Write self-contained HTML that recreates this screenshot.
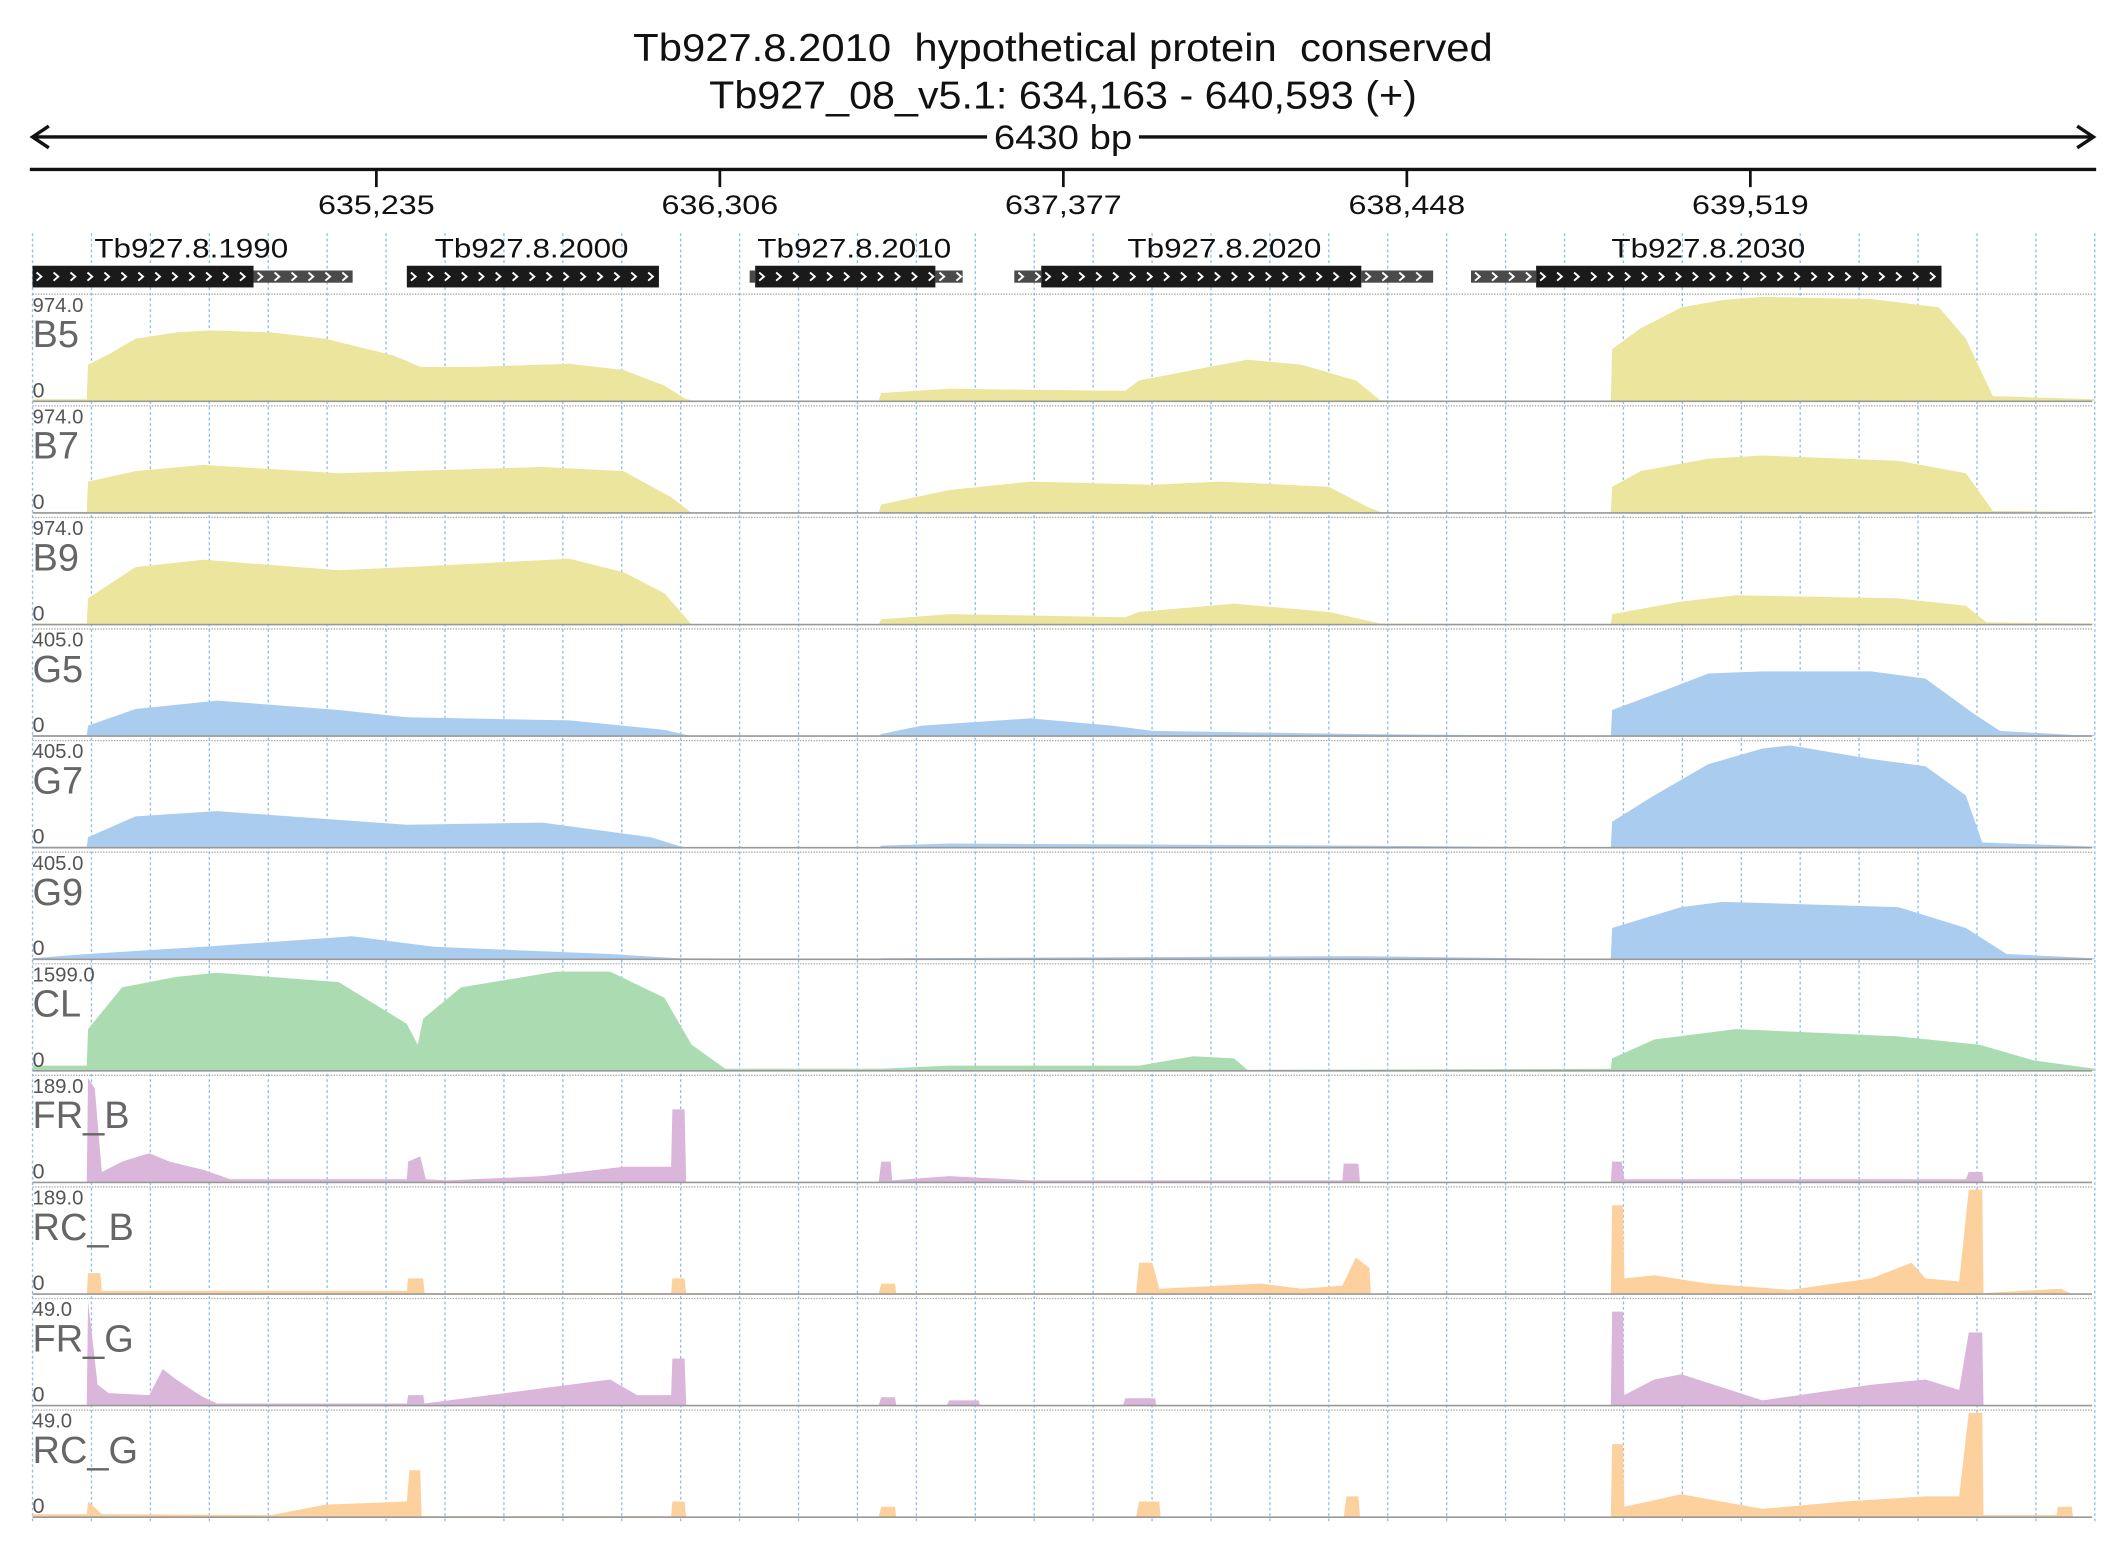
<!DOCTYPE html>
<html><head><meta charset="utf-8"><style>
html,body{margin:0;padding:0;background:#fff;}
svg{display:block;font-family:"Liberation Sans",sans-serif;}
</style></head><body>
<svg id="chart" width="2126" height="1561" viewBox="0 0 1568 1151.3" xmlns="http://www.w3.org/2000/svg">
<g id="grid"></g>
<g id="header">
<text x="784" y="45" font-size="29" text-anchor="middle" fill="#111" xml:space="preserve" textLength="634" lengthAdjust="spacingAndGlyphs">Tb927.8.2010  hypothetical protein  conserved</text>
<text x="784" y="80" font-size="29" text-anchor="middle" fill="#111" textLength="522" lengthAdjust="spacingAndGlyphs">Tb927_08_v5.1: 634,163 - 640,593 (+)</text>
<line x1="24" y1="101" x2="1544" y2="101" stroke="#111" stroke-width="2.5"/>
<polyline points="36,93 24,101 36,109" fill="none" stroke="#111" stroke-width="2.5"/>
<polyline points="1532,93 1544,101 1532,109" fill="none" stroke="#111" stroke-width="2.5"/>
<rect x="728" y="88" width="112" height="26" fill="#fff"/>
<text x="784" y="110" font-size="25" text-anchor="middle" fill="#111" textLength="102" lengthAdjust="spacingAndGlyphs">6430 bp</text>
<line x1="22" y1="125" x2="1546" y2="125" stroke="#111" stroke-width="2.5"/>
</g>
<g id="xticks"></g>
<g id="genes"></g>
<g id="tracks"></g>
</svg>
<script>
const startBp = 634163;
const spanBp = 6430;
const tickLabels = [635235, 636306, 637377, 638448, 639519];
const geneNames = ["Tb927.8.1990","Tb927.8.2000","Tb927.8.2010","Tb927.8.2020","Tb927.8.2030"];
const geneLabelAt = [495, 1556, 2562, 3716, 5225];
const geneCds = [[0,689],[1167,1953],[2253,2815],[3145,4143],[4688,5952]];
const geneUtrs = [[[689,998]],[],[[2236,2253],[2815,2900]],[[3061,3145],[4143,4367]],[[4485,4688]]];
const trackNames = ["B5","B7","B9","G5","G7","G9","CL","FR_B","RC_B","FR_G","RC_G"];
const trackMax = ["974.0","974.0","974.0","405.0","405.0","405.0","1599.0","189.0","189.0","49.0","49.0"];
const trackColors = ["#ece59d","#ece59d","#ece59d","#aacdef","#aacdef","#aacdef","#abdcb1","#d9b6da","#fdd19d","#d9b6da","#fdd19d"];
const posB5=[0,169,173,237,321,448,554,744,913,1125,1209,1378,1674,1843,1970,2033,2063,2638,2646,2858,3407,3450,3619,3788,3957,4126,4202,4921,4925,5014,5141,5268,5394,5733,5944,6028,6112,6430];
const valB5=[0.02,0.02,0.35,0.45,0.6,0.66,0.68,0.66,0.6,0.44,0.33,0.33,0.36,0.3,0.15,0.03,0,0,0.08,0.12,0.1,0.2,0.3,0.4,0.35,0.2,0.01,0,0.5,0.7,0.9,0.97,1.0,0.98,0.9,0.6,0.05,0.02];
const posB7=[0,169,173,321,533,955,1167,1590,1843,1991,2055,2638,2646,2858,3111,3492,3703,4042,4168,4211,4921,4925,5014,5225,5394,5817,6028,6112,6430];
const valB7=[0.01,0.01,0.3,0.4,0.46,0.38,0.4,0.44,0.4,0.15,0,0,0.08,0.22,0.3,0.27,0.3,0.25,0.05,0,0,0.25,0.4,0.52,0.55,0.5,0.38,0.02,0.01];
const posB9=[0,169,173,321,533,955,1167,1674,1843,1970,2055,2638,2646,2858,3407,3450,3746,4042,4202,4921,4925,5141,5310,5817,6028,6092,6430];
const valB9=[0.01,0.01,0.25,0.55,0.62,0.52,0.55,0.63,0.5,0.3,0,0,0.05,0.1,0.07,0.12,0.2,0.12,0.01,0,0.1,0.22,0.28,0.25,0.18,0.02,0.01];
const posG5=[0,169,173,321,575,955,1167,1674,1970,2055,2638,2646,2773,3111,3365,3492,4126,4921,4925,5099,5225,5394,5733,5902,6050,6134,6366,6430];
const valG5=[0.01,0.01,0.1,0.26,0.34,0.25,0.18,0.15,0.06,0,0,0.02,0.1,0.17,0.1,0.05,0.02,0,0.25,0.45,0.6,0.62,0.62,0.55,0.22,0.05,0.01,0.01];
const posG7=[0,169,173,321,575,1167,1590,1928,2033,2638,2646,2858,4126,4921,4925,5056,5225,5394,5479,5733,5902,6028,6079,6430];
const valG7=[0.01,0.01,0.1,0.3,0.35,0.22,0.24,0.1,0,0,0.02,0.04,0.02,0,0.25,0.5,0.8,0.95,0.98,0.85,0.78,0.5,0.05,0.01];
const posG9=[0,169,533,998,1251,1801,2012,2638,2646,4126,4921,4925,5141,5268,5817,6028,6155,6430];
const valG9=[0.01,0.05,0.12,0.22,0.12,0.05,0.01,0,0.01,0.03,0,0.3,0.5,0.55,0.5,0.3,0.05,0.01];
const posCL=[0,169,173,279,448,575,955,1167,1201,1218,1336,1632,1801,1970,2055,2160,2638,2646,2858,3450,3619,3746,3788,4921,4925,5056,5310,5817,6071,6239,6430];
const valCL=[0.05,0.05,0.4,0.8,0.9,0.94,0.85,0.45,0.25,0.5,0.8,0.95,0.95,0.7,0.25,0.02,0.02,0.02,0.05,0.05,0.14,0.12,0.01,0.02,0.12,0.3,0.4,0.33,0.25,0.1,0.02];
const posFRB=[0,169,173,194,216,279,364,427,533,617,1167,1171,1209,1226,1294,1590,1843,1970,1991,1995,2033,2038,2638,2646,2676,2680,2858,3111,4084,4088,4134,4139,4921,4925,4955,4963,5394,6028,6037,6079,6083,6430];
const valFRB=[0,0,1.0,0.9,0.1,0.2,0.28,0.2,0.12,0.03,0.03,0.2,0.25,0.03,0.02,0.06,0.15,0.15,0.15,0.7,0.7,0,0,0.2,0.2,0.02,0.06,0.02,0.02,0.18,0.18,0,0,0.2,0.2,0.03,0.03,0.03,0.1,0.1,0,0];
const posRCB=[0,169,173,211,216,1167,1171,1218,1222,1991,1995,2033,2038,2638,2646,2689,2693,3441,3450,3492,3513,3830,3957,4084,4126,4168,4173,4921,4925,4959,4963,5056,5225,5479,5733,5859,5902,6007,6037,6079,6083,6324,6358,6430];
const valRCB=[0,0,0.2,0.2,0.03,0.03,0.15,0.15,0.01,0.01,0.15,0.15,0.01,0,0.1,0.1,0.01,0.01,0.3,0.3,0.05,0.1,0.05,0.08,0.35,0.25,0,0,0.85,0.85,0.15,0.18,0.1,0.04,0.15,0.3,0.15,0.12,1.0,1.0,0.01,0.05,0,0];
const posFRG=[0,169,173,203,237,364,406,448,512,533,575,1167,1171,1218,1222,1801,1885,1991,1995,2033,2038,2638,2646,2689,2693,2850,2858,2950,2954,3400,3407,3500,3504,4921,4925,4959,4963,5056,5141,5394,5733,5902,6007,6037,6079,6083,6430];
const valFRG=[0,0,1.0,0.2,0.12,0.1,0.35,0.25,0.12,0.08,0.02,0.02,0.1,0.1,0.02,0.25,0.1,0.1,0.45,0.45,0,0,0.08,0.08,0,0,0.05,0.05,0,0,0.07,0.07,0,0,0.9,0.9,0.1,0.25,0.3,0.05,0.2,0.25,0.15,0.7,0.7,0,0];
const posRCG=[0,169,173,216,744,913,1167,1175,1209,1213,1991,1995,2033,2038,2638,2646,2689,2693,3441,3450,3513,3517,4088,4097,4134,4139,4921,4925,4959,4963,5141,5394,5648,5902,6007,6037,6079,6083,6311,6315,6358,6362];
const valRCG=[0.03,0.03,0.15,0.03,0.02,0.12,0.15,0.45,0.45,0.01,0.01,0.15,0.15,0,0,0.1,0.1,0,0,0.15,0.15,0,0,0.2,0.2,0,0,0.7,0.7,0.1,0.22,0.08,0.15,0.2,0.2,1.0,1.0,0.02,0.02,0.1,0.1,0];
const trackPos=[posB5,posB7,posB9,posG5,posG7,posG9,posCL,posFRB,posRCB,posFRG,posRCG];
const trackVal=[valB5,valB7,valB9,valG5,valG7,valG9,valCL,valFRB,valRCB,valFRG,valRCG];

const NS="http://www.w3.org/2000/svg";
const X0=24, X1=1545;
function xScale(off){return X0+off/spanBp*(X1-X0);}
function mk(tag,attrs,parent){const e=document.createElementNS(NS,tag);for(const k in attrs)e.setAttribute(k,attrs[k]);parent.appendChild(e);return e;}

const grid=document.getElementById('grid');
for(let k=0;k<=35;k++){
  const x=X0+k*(X1-X0)/35;
  const l=mk('line',{x1:x,y1:172,x2:x,y2:1122,stroke:'#8ec0ea','stroke-width':1,'stroke-dasharray':'2,2'},grid);
  
  
}
const xt=document.getElementById('xticks');
tickLabels.forEach(v=>{
  const x=xScale(v-startBp);
  const t=mk('line',{x1:x,y1:125,x2:x,y2:138,stroke:'#111','stroke-width':2},xt);
  
  
  const tx=mk('text',{x:x,y:158,'font-size':20,'text-anchor':'middle',fill:'#111',textLength:86,lengthAdjust:'spacingAndGlyphs'},xt);
  tx.textContent=v.toLocaleString('en-US');
  
  
});
const gg=document.getElementById('genes');
function chevrons(a,b,yc,parent){
  for(let x=xScale(a)+3;x<xScale(b)-3;x+=12.5){
    const p=mk('polyline',{points:`${x},${yc-3} ${x+3.5},${yc} ${x},${yc+3}`,fill:'none',stroke:'#fff','stroke-width':1.4},parent);
    
    
  }
}
geneNames.forEach((n,i)=>{
  const g=mk('g',{},gg);
  
  
  geneUtrs[i].forEach(u=>{
    const r=mk('rect',{x:xScale(u[0]),y:199.5,width:xScale(u[1])-xScale(u[0]),height:9,fill:'#4a4a4a'},g);
    
    
    chevrons(u[0],u[1],204,g);
  });
  const c=geneCds[i];
  const r=mk('rect',{x:xScale(c[0]),y:196,width:xScale(c[1])-xScale(c[0]),height:16,fill:'#1a1a1a'},g);
  
  
  chevrons(c[0],c[1],204,g);
  const t=mk('text',{x:xScale(geneLabelAt[i]),y:190,'font-size':20,'text-anchor':'middle',fill:'#111',textLength:143,lengthAdjust:'spacingAndGlyphs'},g);
  t.textContent=n;
  
  
});
const tg=document.getElementById('tracks');
const T0=217, STEP=82.3, H=77;
trackNames.forEach((n,i)=>{
  const top=T0+i*STEP, base=top+79;
  const g=mk('g',{},tg);
  
  
  const sep=mk('line',{x1:24,y1:top,x2:1543,y2:top,stroke:'#aaa','stroke-width':1,'stroke-dasharray':'1,1'},g);
  
  
  const pos=trackPos[i], val=trackVal[i];
  let pts=`${xScale(pos[0])},${base}`;
  for(let j=0;j<pos.length;j++){pts+=` ${xScale(pos[j])},${base-val[j]*H}`;}
  pts+=` ${xScale(pos[pos.length-1])},${base}`;
  const a=mk('polygon',{points:pts,fill:trackColors[i]},g);
  
  
  const bl=mk('line',{x1:24,y1:base,x2:1543,y2:base,stroke:'#999','stroke-width':1.2},g);
  
  
  const mx=mk('text',{x:24,y:top+13,'font-size':15,fill:'#555'},g);
  mx.textContent=trackMax[i];
  
  
  const nm=mk('text',{x:24,y:top+39,'font-size':28,fill:'#666'},g);
  nm.textContent=n;
  
  
  const z=mk('text',{x:24,y:top+76,'font-size':16,fill:'#555'},g);
  z.textContent='0';
  
  
});
</script>
</body></html>
